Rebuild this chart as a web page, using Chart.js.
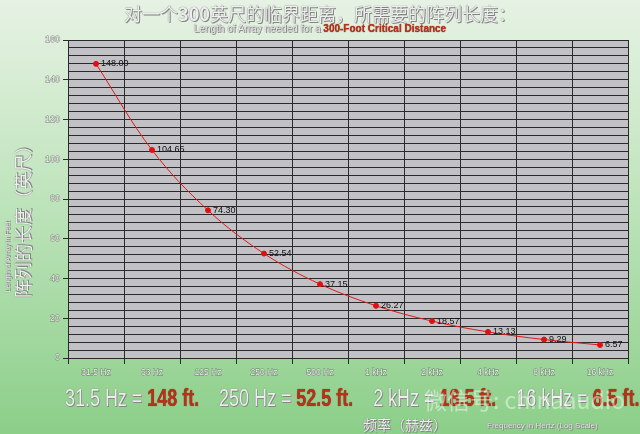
<!DOCTYPE html>
<html>
<head>
<meta charset="utf-8">
<script src="https://cdn.jsdelivr.net/npm/chart.js@4.4.0/dist/chart.umd.min.js"></script>
<style>
  html, body { margin: 0; padding: 0; }
  #wrap {
    position: relative; width: 640px; height: 434px; overflow: hidden;
    background: linear-gradient(180deg, #e6f2e4 0%, #c4e6c1 40%, #8ccf89 100%);
    font-family: "Liberation Sans", Arial, sans-serif;
  }
  #myChart { position: absolute; left: 0; top: 0; }
  .emb { color: #eeeeee; text-shadow: 0 0 1px #555, 1px 1px 0 #8a8a8a; }
  .red { color: #b8321a; font-weight: bold; text-shadow: 0 0 1px #6a1a0a; }
  .t { position: absolute; white-space: nowrap; line-height: 1; }
</style>
</head>
<body>
<div id="wrap">
  <canvas id="myChart" width="640" height="434"></canvas>
  <div class="t emb" style="left:0;width:640px;text-align:center;top:4px;font-size:18px;font-family:'Noto Sans CJK SC',sans-serif;">对一个<b>300</b>英尺的临界距离，所需要的阵列长度：</div>
  <div class="t emb" style="left:0;width:640px;text-align:center;top:24px;font-size:10px;">Length of Array needed for a <span class="red">300-Foot Critical Distance</span></div>
  <div class="t emb" style="left:22px;top:217px;transform:translate(-50%,-50%) rotate(-90deg);font-size:18px;font-family:'Noto Sans CJK SC',sans-serif;">阵列的长度（英尺）</div>
  <div class="t emb" style="left:7px;top:257px;transform:translate(-50%,-50%) rotate(-90deg);font-size:7px;">Length of Array in Feet</div>
  <div class="t emb" style="left:65px;top:387px;font-size:23px;transform:scaleX(0.78);transform-origin:0 0;">
    31.5 Hz = <span class="red">148 ft.</span>&nbsp;&nbsp;&nbsp; 250 Hz = <span class="red">52.5 ft.</span>&nbsp;&nbsp;&nbsp; 2 kHz = <span class="red">18.5 ft.</span>&nbsp;&nbsp;&nbsp; 16 kHz = <span class="red">6.5 ft.</span>
  </div>
  <div class="t" style="left:424px;top:388px;font-size:23px;color:rgba(255,255,255,0.45);font-family:'Noto Sans CJK SC',sans-serif;">微信号: chinaaudio</div>
  <div class="t emb" style="left:363px;top:417px;font-size:14px;font-family:'Noto Sans CJK SC',sans-serif;">频率（赫兹）</div>
  <div class="t emb" style="left:487px;top:422px;font-size:8px;">Frequency in Hertz (Log Scale)</div>
</div>
<script>
var labelsHz = ['31.5 Hz', '63 Hz', '125 Hz', '250 Hz', '500 Hz', '1 kHz', '2 kHz', '4 kHz', '8 kHz', '16 kHz']
var lengthFeet = [148.00, 104.65, 74.30, 52.54, 37.15, 26.27, 18.57, 13.13, 9.29, 6.57]

// gray plot background
const plotBg = {
  id: 'plotBg',
  beforeDraw(chart) {
    const c = chart.ctx, a = chart.chartArea
    c.save()
    c.fillStyle = '#c2c1c5'
    c.fillRect(a.left, a.top, a.right - a.left, a.bottom - a.top)
    c.restore()
  }
}

// value labels next to each point
const valueLabels = {
  id: 'valueLabels',
  afterDatasetsDraw(chart) {
    const c = chart.ctx
    const meta = chart.getDatasetMeta(0)
    c.save()
    c.font = '9px "Liberation Sans", Arial, sans-serif'
    c.fillStyle = '#111'
    c.textBaseline = 'middle'
    meta.data.forEach(function (pt, i) {
      c.fillText(lengthFeet[i].toFixed(2), pt.x + 5, pt.y)
    })
    c.restore()
  }
}

const ctx = document.getElementById('myChart')
var a = new Chart(ctx, {
  type: 'line',
  data: {
    labels: labelsHz,
    datasets: [
      {
        label: 'Length of Array',
        data: lengthFeet,
        borderWidth: 1,
        borderColor: '#e01a1a',
        pointBackgroundColor: '#e01010',
        pointBorderColor: '#e01010',
        pointRadius: 2.5,
        tension: 0.35
      }
    ]
  },
  options: {
    responsive: false,
    animation: false,
    layout: { padding: { top: 40, right: 12, left: 0, bottom: 0 } },
    plugins: { legend: { display: false }, tooltip: { enabled: false } },
    scales: {
      x: {
        offset: true,
        afterFit: function (s) { s.height = 76 },
        grid: { offset: true, color: '#2a2a2a', tickColor: '#2a2a2a', tickLength: 6 },
        border: { color: '#2a2a2a' },
        ticks: {
          color: '#f0f0f0', textStrokeColor: 'rgba(90,90,90,0.75)', textStrokeWidth: 0.9,
          font: { size: 8.5, family: '"Liberation Sans", Arial, sans-serif' }, padding: 4, maxRotation: 0
        }
      },
      y: {
        min: 0,
        max: 160,
        afterFit: function (s) { s.width = 68 },
        grid: {
          color: '#2a2a2a',
          tickLength: 5,
          tickColor: function (c) { return c.tick && c.tick.value % 20 === 0 ? '#2a2a2a' : 'rgba(0,0,0,0)' }
        },
        border: { color: '#2a2a2a' },
        ticks: {
          stepSize: 4,
          autoSkip: false,
          callback: function (v) { return v % 20 === 0 ? v : '' },
          color: '#f0f0f0', textStrokeColor: 'rgba(90,90,90,0.75)', textStrokeWidth: 0.9,
          font: { size: 9, family: '"Liberation Sans", Arial, sans-serif' }, padding: 3
        }
      }
    }
  },
  plugins: [plotBg, valueLabels]
})
</script>
</body>
</html>
